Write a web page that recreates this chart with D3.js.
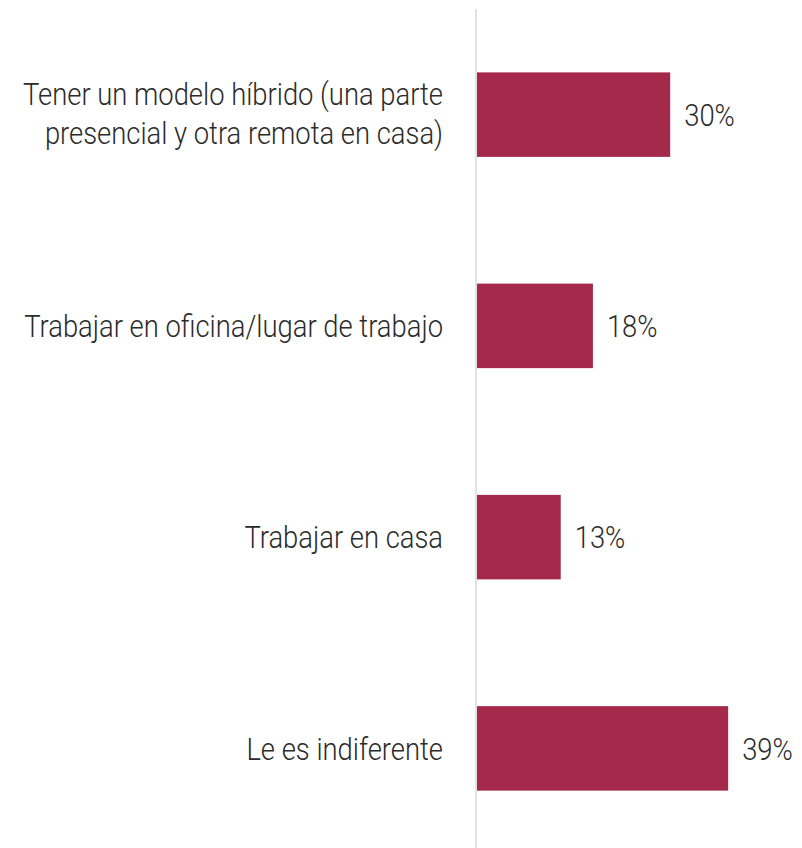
<!DOCTYPE html>
<html>
<head>
<meta charset="utf-8">
<script src="https://cdn.jsdelivr.net/npm/d3@7"></script>
<style>
  html, body { margin: 0; padding: 0; background: #fff; }
  svg text { font-family: Roboto, "Noto Sans", sans-serif; font-weight: 300; fill: #2b2b2b; }
</style>
</head>
<body>
<svg id="chart" width="802" height="848"></svg>
<script>
// Preferred work arrangement, share of respondents (%)
const categories = [
  ["Tener un modelo híbrido (una parte", "presencial y otra remota en casa)"],
  ["Trabajar en oficina/lugar de trabajo"],
  ["Trabajar en casa"],
  ["Le es indiferente"]
];
const values = [30, 18, 13, 39];
const valueLabels = ["30%", "18%", "13%", "39%"];

const svg = d3.select("#chart");
const axisX = 476;
const fontSize = 32;
const squeeze = 0.856; // narrow the glyphs to a condensed look
const lineGap = 39;

const x = d3.scaleLinear().domain([0, 100]).range([axisX, axisX + 644]);
const y = d3.scaleBand()
  .domain(d3.range(categories.length))
  .range([9, 854])
  .paddingInner(0.6)
  .paddingOuter(0.3);

// bars
svg.append("g").selectAll("rect")
  .data(values)
  .join("rect")
  .attr("x", x(0) + 1)
  .attr("y", (d, i) => y(i))
  .attr("width", d => x(d) - x(0))
  .attr("height", y.bandwidth())
  .attr("fill", "#a5294b");

// vertical baseline
svg.append("line")
  .attr("x1", axisX).attr("x2", axisX)
  .attr("y1", 9).attr("y2", 848)
  .attr("stroke", "#d9d9d9")
  .attr("stroke-width", 1.5);

// category labels, right aligned to the left of the baseline
const catG = svg.append("g");
categories.forEach((lines, i) => {
  const cy = y(i) + y.bandwidth() / 2 - (lines.length > 1 ? 1.5 : 0);
  const t = catG.append("text")
    .attr("transform", `translate(${axisX - 33},${cy}) scale(${squeeze},1)`)
    .attr("text-anchor", "end")
    .attr("font-size", fontSize);
  lines.forEach((ln, j) => {
    t.append("tspan")
      .attr("x", 0)
      .attr("y", (j - (lines.length - 1) / 2) * lineGap)
      .attr("dy", "0.355em")
      .text(ln);
  });
});

// value labels at the end of each bar
svg.append("g").selectAll("text")
  .data(values)
  .join("text")
  .attr("transform", (d, i) => `translate(${x(d) + 15},${y(i) + y.bandwidth() / 2}) scale(${squeeze},1)`)
  .attr("dy", "0.355em")
  .attr("font-size", fontSize)
  .text((d, i) => valueLabels[i]);
</script>
</body>
</html>
